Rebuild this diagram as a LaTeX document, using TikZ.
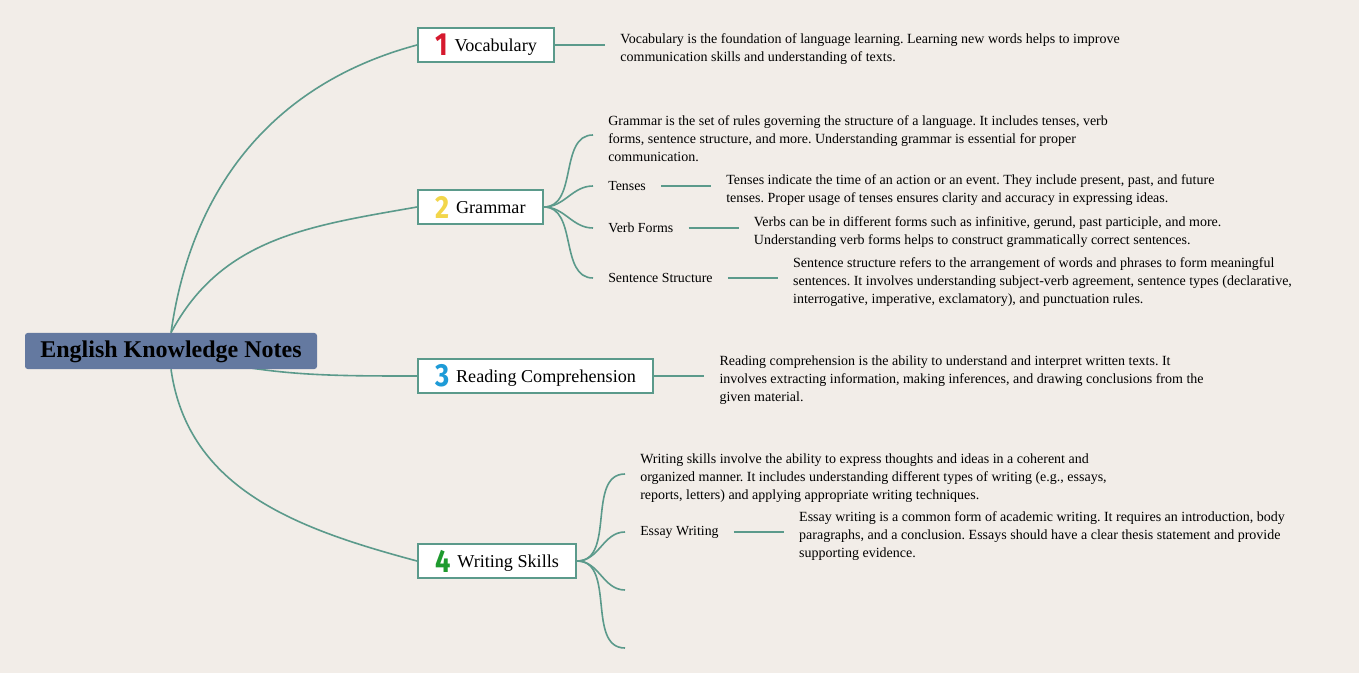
\documentclass[tikz,border=0pt]{standalone}
\usepackage{fontspec}
\setmainfont{Liberation Serif}
\newfontfamily\numfont{Fira Sans}
\usetikzlibrary{positioning, backgrounds}
\frenchspacing

\definecolor{bgcol}{HTML}{F2EDE8}
\definecolor{linecol}{HTML}{5B9A8B}
\definecolor{rootcol}{HTML}{6479A0}
\definecolor{numred}{HTML}{D6192E}
\definecolor{numyellow}{HTML}{F2D64B}
\definecolor{numblue}{HTML}{1E9BD7}
\definecolor{numgreen}{HTML}{1E9A2E}

\newcommand{\branchnum}[2]{\raisebox{-3.5pt}{\scalebox{0.85}[1]{\numfont\bfseries\fontsize{24}{24}\selectfont\textcolor{#1}{#2}}}\hspace{5pt}}

\begin{document}
\begin{tikzpicture}[x=0.75pt, y=0.75pt,
    root/.style={rectangle, rounded corners=2pt, fill=rootcol, minimum width=219pt, minimum height=27pt, text height=14pt, font=\fontsize{18}{20}\selectfont\bfseries},
    branch/.style={rectangle, draw=linecol, line width=1.5pt, fill=white, minimum height=26pt, inner xsep=13pt, inner ysep=2pt, anchor=west, font=\fontsize{13.6}{15}\selectfont},
    leaf/.style={anchor=west, inner xsep=11.25pt, inner ysep=0pt, font=\fontsize{10.4}{13.5}\selectfont},
    desc/.style={anchor=west, align=left, inner xsep=11.25pt, inner ysep=0pt, yshift=-3pt, font=\fontsize{10.5}{13.5}\selectfont},
    link/.style={draw=linecol, line width=1.2pt}
]
    % Central topic
    \node[root] (root) at (171,-351) {English Knowledge Notes};

    % Main branches
    \node[branch] (vocab) at (417,-45) {\branchnum{numred}{1}Vocabulary};
    \node[branch] (grammar) at (417,-207) {\branchnum{numyellow}{2}Grammar};
    \node[branch] (reading) at (417,-376) {\branchnum{numblue}{3}Reading Comprehension};
    \node[branch] (writing) at (417,-561) {\branchnum{numgreen}{4}Writing Skills};

    % Vocabulary
    \node[desc, right=37.5pt of vocab] (vocabdesc) {Vocabulary is the foundation of language learning. Learning new words helps to improve\\communication skills and understanding of texts.};

    % Grammar
    \node[desc] (grammardesc) at (593,-135) {Grammar is the set of rules governing the structure of a language. It includes tenses, verb\\forms, sentence structure, and more. Understanding grammar is essential for proper\\communication.};
    \node[leaf] (tenses) at (593,-186) {Tenses};
    \node[desc, right=37.5pt of tenses] (tensesdesc) {Tenses indicate the time of an action or an event. They include present, past, and future\\tenses. Proper usage of tenses ensures clarity and accuracy in expressing ideas.};
    \node[leaf] (verbforms) at (593,-228) {Verb Forms};
    \node[desc, right=37.5pt of verbforms] (verbdesc) {Verbs can be in different forms such as infinitive, gerund, past participle, and more.\\Understanding verb forms helps to construct grammatically correct sentences.};
    \node[leaf] (structure) at (593,-278) {Sentence Structure};
    \node[desc, right=37.5pt of structure] (structuredesc) {Sentence structure refers to the arrangement of words and phrases to form meaningful\\sentences. It involves understanding subject-verb agreement, sentence types (declarative,\\interrogative, imperative, exclamatory), and punctuation rules.};

    % Reading
    \node[desc, right=37.5pt of reading] (readingdesc) {Reading comprehension is the ability to understand and interpret written texts. It\\involves extracting information, making inferences, and drawing conclusions from the\\given material.};

    % Writing
    \node[desc] (writingdesc) at (625,-474) {Writing skills involve the ability to express thoughts and ideas in a coherent and\\organized manner. It includes understanding different types of writing (e.g., essays,\\reports, letters) and applying appropriate writing techniques.};
    \node[leaf] (essay) at (625,-532) {Essay Writing};
    \node[desc, right=37.5pt of essay] (essaydesc) {Essay writing is a common form of academic writing. It requires an introduction, body\\paragraphs, and a conclusion. Essays should have a clear thesis statement and provide\\supporting evidence.};
    \coordinate (wblankA) at (625,-590);
    \coordinate (wblankB) at (625,-648);

    \begin{scope}[on background layer]
        \fill[bgcol] (0,0) rectangle (1359,-673);
        % root to branches
        \draw[link] (root.north) to[out=82, in=195] (vocab.west);
        \draw[link] (root.north) to[out=62, in=190] (grammar.west);
        \draw[link] (root.center) to[out=-15, in=180] (reading.west);
        \draw[link] (root.south) to[out=-82, in=165] (writing.west);
        % branch to descriptions
        \draw[link] (vocab.east) -- (vocab.east -| vocabdesc.west);
        \draw[link] (reading.east) -- (reading.east -| readingdesc.west);
        \foreach \child in {tenses, verbforms, structure}
            \draw[link] (grammar.east) to[out=0, in=180] (\child.west);
        \draw[link] (grammar.east) to[out=0, in=180] (593,-135);
        \draw[link] (tenses.east) -- (tenses.east -| tensesdesc.west);
        \draw[link] (verbforms.east) -- (verbforms.east -| verbdesc.west);
        \draw[link] (structure.east) -- (structure.east -| structuredesc.west);
        \foreach \child in {essay.west, wblankA, wblankB}
            \draw[link] (writing.east) to[out=0, in=180] (\child);
        \draw[link] (writing.east) to[out=0, in=180] (625,-474);
        \draw[link] (essay.east) -- (essay.east -| essaydesc.west);
    \end{scope}
\end{tikzpicture}
\end{document}
